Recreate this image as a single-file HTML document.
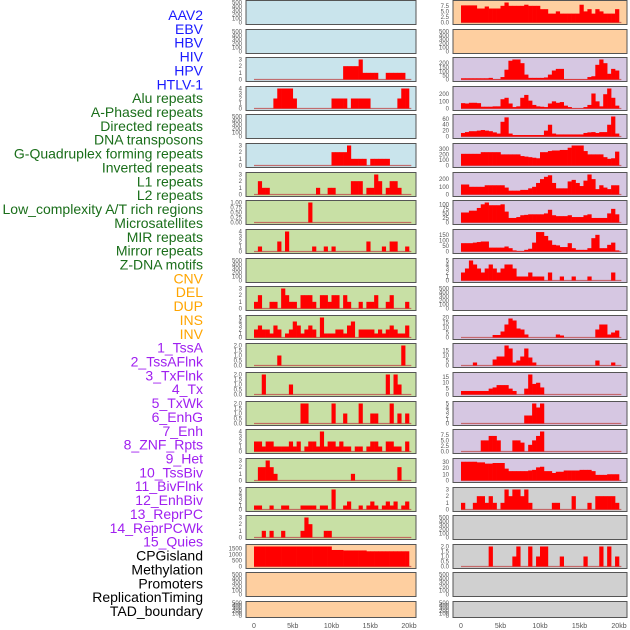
<!DOCTYPE html>
<html><head><meta charset="utf-8"><style>
html,body{margin:0;padding:0;background:#fff;}
svg{display:block;font-family:"Liberation Sans",sans-serif;}
</style></head><body>
<svg id="chart" width="630" height="630" viewBox="0 0 630 630" xmlns="http://www.w3.org/2000/svg"></svg>
<script>
// ---------- data ----------
const trackNames = ["AAV2","EBV","HBV","HIV","HPV","HTLV-1","Alu repeats","A-Phased repeats","Directed repeats","DNA transposons","G-Quadruplex forming repeats","Inverted repeats","L1 repeats","L2 repeats","Low_complexity A/T rich regions","Microsatellites","MIR repeats","Mirror repeats","Z-DNA motifs","CNV","DEL","DUP","INS","INV","1_TssA","2_TssAFlnk","3_TxFlnk","4_Tx","5_TxWk","6_EnhG","7_Enh","8_ZNF_Rpts","9_Het","10_TssBiv","11_BivFlnk","12_EnhBiv","13_ReprPC","14_ReprPCWk","15_Quies","CPGisland","Methylation","Promoters","ReplicationTiming","TAD_boundary"];
const trackGroups = ["v","v","v","v","v","v","r","r","r","r","r","r","r","r","r","r","r","r","r","s","s","s","s","s","c","c","c","c","c","c","c","c","c","c","c","c","c","c","c","o","o","o","o","o"];
const xTicks = [0,5,10,15,20];
const xTickLabels = ["0","5kb","10kb","15kb","20kb"];

const L2 = [0,0,0,0,0,0,0,0,0,0,0,0,0,0,0,0,0,0,0,0,0,0,0,2,2,2,2,3,1,1,1,1,0,0,1,1,1,1,1,0];
const L3 = [0,0,0,0,0,2,4,4,4,4,2,0,0,0,0,0,0,0,0,0,2,2,2,2,0,2,2,2,2,2,0,0,0,0,0,0,0,2,4,4];
const L5 = [0,0,0,0,0,0,0,0,0,0,0,0,0,0,0,0,0,0,0,0,2,2,2,2,3,1,1,1,1,0,1,1,1,1,1,0,0,0,0,0];
const L6 = [0,2,1,1,0,0,0,0,0,0,0,0,0,0,0,0,1,0,0,1,1,0,0,0,0,2,2,2,0,1,1,3,2,0,1,2,2,1,0,0];
const L7 = [0,0,0,0,0,0,0,0,0,0,0,0,0,0,1,0,0,0,0,0,0,0,0,0,0,0,0,0,0,0,0,0,0,0,0,0,0,0,0,0];
const L8 = [0,1,0,0,0,0,2,0,4,0,0,0,0,0,0,1,0,0,1,0,1,0,0,0,0,0,0,0,0,2,0,0,0,1,0,2,2,0,0,1];
const L10 = [1,2,0,0,1,1,0,3,2,1,1,0,2,2,2,1,0,2,2,1,2,2,0,2,1,0,0,1,0,1,1,2,0,0,1,2,0,0,0,1];
const L11 = [2,3,2,2,1,3,2,0,1,2,4,3,1,2,3,2,0,5,1,1,1,2,2,1,3,4,0,2,2,2,2,1,2,1,2,3,2,1,1,3];
const L12 = [0,0,0,0,0,0,1,0,0,0,0,0,0,0,0,0,0,0,0,0,0,0,0,0,0,0,0,0,0,0,0,0,0,0,0,0,0,0,2,0];
const L13 = [0,0,2,0,0,0,0,0,0,1,0,0,0,0,0,0,0,0,0,0,0,0,0,0,0,0,0,0,0,0,0,0,0,0,2,0,2,1,0,0];
const L14 = [0,0,0,0,0,0,0,0,0,0,0,0,2,2,0,0,0,0,0,0,2,0,0,1,0,0,0,2,0,0,1,1,0,0,0,2,0,1,0,1];
const L15 = [2,2,1,2,2,1,1,1,1,2,1,2,0,1,2,2,1,4,1,2,2,1,2,1,1,0,1,1,0,1,2,2,1,0,2,2,1,1,0,2];
const L16 = [0,2,2,3,2,1,0,0,0,0,0,0,0,0,0,0,0,0,0,0,0,0,0,0,0,1,0,0,0,0,0,0,0,0,0,0,0,2,0,0];
const L17 = [1,1,0,0,1,0,0,1,1,0,0,0,1,1,1,1,0,1,1,0,5,0,0,1,2,0,0,1,0,1,2,1,0,1,2,1,2,0,1,2];
const L18 = [0,0,1,0,1,0,0,1,0,0,0,0,1,3,2,0,0,0,1,1,0,0,0,0,0,0,0,0,0,0,0,0,0,0,0,0,0,0,0,0];
const L19 = [1670,1670,1670,1670,1670,1670,1670,1670,1670,1670,1670,1670,1670,1670,1670,1670,1670,1670,1670,1670,1380,1380,1380,1340,1340,1340,1340,1340,1340,1270,1270,1270,1270,1270,1270,1270,1270,1270,1270,1270];

const R0 = [7.7,7.7,7.7,7.7,6.3,6.3,7.2,6.3,6.3,6.3,7.5,9,7.5,7.5,7.5,7.5,8,7.5,7.5,7.5,6,6,4,4,5,4,4,4,4,4,8,5,6,4,6,5,4,4,4,6];
const R2 = [15,15,15,15,15,15,15,20,5,5,30,120,230,245,245,200,60,20,20,20,20,25,60,110,130,130,5,5,5,5,5,5,30,40,180,245,200,70,130,110];
const R3 = [75,70,80,80,75,25,25,25,30,30,130,150,70,20,30,150,190,110,50,30,25,20,70,100,80,90,40,20,5,5,5,20,50,210,100,30,200,280,150,40];
const R4 = [12,15,18,18,20,22,20,18,14,10,50,65,10,5,5,5,5,5,5,5,5,20,40,10,7,7,7,7,7,7,7,12,14,15,12,15,15,40,68,10];
const R5 = [210,210,210,210,210,240,240,240,240,240,200,200,200,200,200,170,160,150,140,130,240,240,260,270,270,280,280,320,360,360,360,260,200,200,200,200,150,120,130,250];
const R6 = [130,130,100,100,100,100,120,120,120,120,120,90,50,50,50,60,60,80,100,150,200,230,250,150,80,80,80,170,190,150,110,180,260,200,70,120,90,70,120,120];
const R7 = [55,55,65,65,80,100,110,95,95,95,100,60,25,25,30,40,42,45,45,45,45,50,70,40,35,35,35,40,30,30,30,40,45,25,25,25,25,50,75,45];
const R8 = [75,75,75,80,85,90,90,35,35,35,35,45,30,10,5,5,15,25,80,175,175,140,100,60,55,40,40,75,30,15,15,15,30,120,150,30,30,60,80,10];
const R9 = [2,3,5,4,3,2,3,4,3,2,3,4,4,3,1,1,1,2,1,1,1,0,2,0,0,1,0,0,1,0,0,0,1,0,0,0,0,0,2,0];
const R11 = [0,0,0,0,0,0,0,0,2.5,2.5,6,13,19,17,9,8,3,0,0,0,0,0,0,0,3,2,0,0,0,0,0,0,0,0,8,13,13,3,5,7];
const R12 = [0,0,0,3,0,0,0,0,6,9,9,20,17,3,5,9,17,8,3,0,0,0,0,0,0,0,0,0,0,0,0,0,0,0,5,0,0,0,3,0];
const R13 = [3,3,3,3,3,3,3,5,6,8,8,8,5,3,0,0,5,17,9,10,6,0,0,0,0,0,0,0,0,0,0,0,0,0,0,0,0,0,0,0];
const R14 = [0,0,0,0,0,0,0,0,0,0,0,0,0,0,0,0,2,2,5,4,5,0,0,0,0,0,0,0,0,0,0,0,0,0,0,0,0,0,0,0];
const R15 = [0,0,0,0,0,5,5,7,7,5,0,0,0,5,5,4,0,3,5,7,9,0,0,0,0,0,0,0,0,0,0,0,0,0,0,0,0,0,0,0];
const R16 = [30,30,30,30,29,29,27,27,28,28,28,19,15,15,15,15,15,16,17,21,22,15,15,12,14,14,16,16,16,16,17,17,17,15,9,9,9,10,10,10];
const R17 = [1,0,0,1,2,2,1,2,1,0,1,3,2,3,3,2,3,1,0,0,0,0,0,1,1,0,0,0,2,0,0,0,1,0,2,2,2,2,2,1];
const R19 = [0,0,0,0,0,0,0,2,0,0,0,0,0,1,2,0,0,2,0,1,2,2,0,0,0,1,0,0,0,0,0,1,0,0,0,2,0,2,0,1];

const tEmpty = ["0","100","200","300","400","500"];
const t3 = ["0","1","2","3"], t4 = ["0","1","2","3","4"], t5 = ["0","1","2","3","4","5"];
const t1 = ["0.00","0.25","0.50","0.75","1.00"], t2 = ["0.0","0.5","1.0","1.5","2.0"];
const t75 = ["0.0","2.5","5.0","7.5"];

// ---------- layout ----------
const NS = "http://www.w3.org/2000/svg";
const svg = document.getElementById("chart");
const BIN = 0.5;
const colL = {x0:246, x1:416, d0:254, d20:409};
const colR = {x0:453, x1:627, d0:461, d20:619};
const bgs = {blue:"#c9e4ec", green:"#c8e0a5", orange:"#fecfa0", purple:"#d6c7e2", grey:"#d0d0d0"};
function rowTop(r){ return Math.round(r*28.62); }
function rowH(r){ return r===21 ? 16 : 24; }

const leftPanels = [
 {row:0,data:null,max:500,ticks:tEmpty,bg:"blue"},
 {row:1,data:null,max:500,ticks:tEmpty,bg:"blue"},
 {row:2,data:L2,max:3,ticks:t3,bg:"blue"},
 {row:3,data:L3,max:4,ticks:t4,bg:"blue"},
 {row:4,data:null,max:500,ticks:tEmpty,bg:"blue"},
 {row:5,data:L5,max:3,ticks:t3,bg:"blue"},
 {row:6,data:L6,max:3,ticks:t3,bg:"green"},
 {row:7,data:L7,max:1,ticks:t1,bg:"green"},
 {row:8,data:L8,max:4,ticks:t4,bg:"green"},
 {row:9,data:null,max:500,ticks:tEmpty,bg:"green"},
 {row:10,data:L10,max:3,ticks:t3,bg:"green"},
 {row:11,data:L11,max:5,ticks:t5,bg:"green"},
 {row:12,data:L12,max:2,ticks:t2,bg:"green"},
 {row:13,data:L13,max:2,ticks:t2,bg:"green"},
 {row:14,data:L14,max:2,ticks:t2,bg:"green"},
 {row:15,data:L15,max:4,ticks:t4,bg:"green"},
 {row:16,data:L16,max:3,ticks:t3,bg:"green"},
 {row:17,data:L17,max:5,ticks:t5,bg:"green"},
 {row:18,data:L18,max:3,ticks:t3,bg:"green"},
 {row:19,data:L19,max:1670,ticks:["0","500","1000","1500"],bg:"orange"},
 {row:20,data:null,max:500,ticks:tEmpty,bg:"orange"},
 {row:21,data:null,max:500,ticks:tEmpty,bg:"orange"}
];
const rightPanels = [
 {row:0,data:R0,max:9,ticks:t75,bg:"orange"},
 {row:1,data:null,max:500,ticks:tEmpty,bg:"orange"},
 {row:2,data:R2,max:245,ticks:["0","50","100","150","200"],bg:"purple"},
 {row:3,data:R3,max:280,ticks:["0","100","200"],bg:"purple"},
 {row:4,data:R4,max:68,ticks:["0","20","40","60"],bg:"purple"},
 {row:5,data:R5,max:360,ticks:["0","100","200","300"],bg:"purple"},
 {row:6,data:R6,max:260,ticks:["0","100","200"],bg:"purple"},
 {row:7,data:R7,max:110,ticks:["0","25","50","75","100"],bg:"purple"},
 {row:8,data:R8,max:180,ticks:["0","50","100","150"],bg:"purple"},
 {row:9,data:R9,max:5,ticks:t5,bg:"purple"},
 {row:10,data:null,max:500,ticks:tEmpty,bg:"purple"},
 {row:11,data:R11,max:20,ticks:["0","5","10","15","20"],bg:"purple"},
 {row:12,data:R12,max:20,ticks:["0","5","10","15"],bg:"purple"},
 {row:13,data:R13,max:17,ticks:["0","5","10","15"],bg:"purple"},
 {row:14,data:R14,max:5,ticks:t5,bg:"purple"},
 {row:15,data:R15,max:9,ticks:t75,bg:"purple"},
 {row:16,data:R16,max:32,ticks:["0","10","20","30"],bg:"purple"},
 {row:17,data:R17,max:3,ticks:t3,bg:"grey"},
 {row:18,data:null,max:500,ticks:tEmpty,bg:"grey"},
 {row:19,data:R19,max:2,ticks:t2,bg:"grey"},
 {row:20,data:null,max:500,ticks:tEmpty,bg:"grey"},
 {row:21,data:null,max:500,ticks:tEmpty,bg:"grey"}
];

function mk(tag, attrs, parent){
  const e = document.createElementNS(NS, tag);
  for (const k in attrs) e.setAttribute(k, attrs[k]);
  (parent||svg).appendChild(e);
  return e;
}

function drawPanel(p, col, side){
  const top = rowTop(p.row), h = rowH(p.row);
  const g = mk("g", {});
  
  
  mk("rect", {x:col.x0, y:top+0.5, width:col.x1-col.x0, height:h, fill:bgs[p.bg], stroke:"#555", "stroke-width":1}, g);
  const inT = top+1.5, inB = top+h-0.5;
  const lo = -0.05*p.max, hi = 1.05*p.max;
  const ys = v => inB - (v-lo)/(hi-lo)*(inB-inT);
  const xs = kb => col.d0 + kb/20*(col.d20-col.d0);
  // ticks
  const n = p.ticks.length;
  p.ticks.forEach((lab) => {
    const v = parseFloat(lab);
    const t = mk("text", {x:col.x0-4, y:ys(v)+2, "font-size":6, fill:"#555", "text-anchor":"end"}, g);
    t.textContent = lab;
    
    
  });
  if (!p.data) return;
  // baseline
  const bl = mk("line", {x1:xs(0), x2:xs(20.3), y1:ys(0), y2:ys(0), stroke:"#c05050", "stroke-width":1.2, opacity:0.8}, g);
  
  
  p.data.forEach((v, i) => {
    if (v <= 0) return;
    const x0 = xs(i*BIN), x1 = xs((i+1)*BIN);
    const r = mk("rect", {x:x0, y:ys(v), width:x1-x0+0.3, height:ys(0)-ys(v), fill:"#ff0000"}, g);
    
    
  });
}
leftPanels.forEach(p => drawPanel(p, colL, "left"));
rightPanels.forEach(p => drawPanel(p, colR, "right"));

// x axis labels
[colL, colR].forEach((col, ci) => {
  xTicks.forEach((kb, i) => {
    const t = mk("text", {x:col.d0 + kb/20*(col.d20-col.d0), y:628, "font-size":7, fill:"#555", "text-anchor":"middle"});
    t.textContent = xTickLabels[i];
    
    
  });
});

// track labels
const groupColor = {v:"#1a1aff", r:"#1a6e1a", s:"#ffa500", c:"#a020f0", o:"#000000"};
trackNames.forEach((name, i) => {
  const t = mk("text", {x:203, y:15 + i*13.86 + 5, "font-size":14, fill:groupColor[trackGroups[i]], "text-anchor":"end"});
  t.textContent = name;
  
  
});
</script>
</body></html>
